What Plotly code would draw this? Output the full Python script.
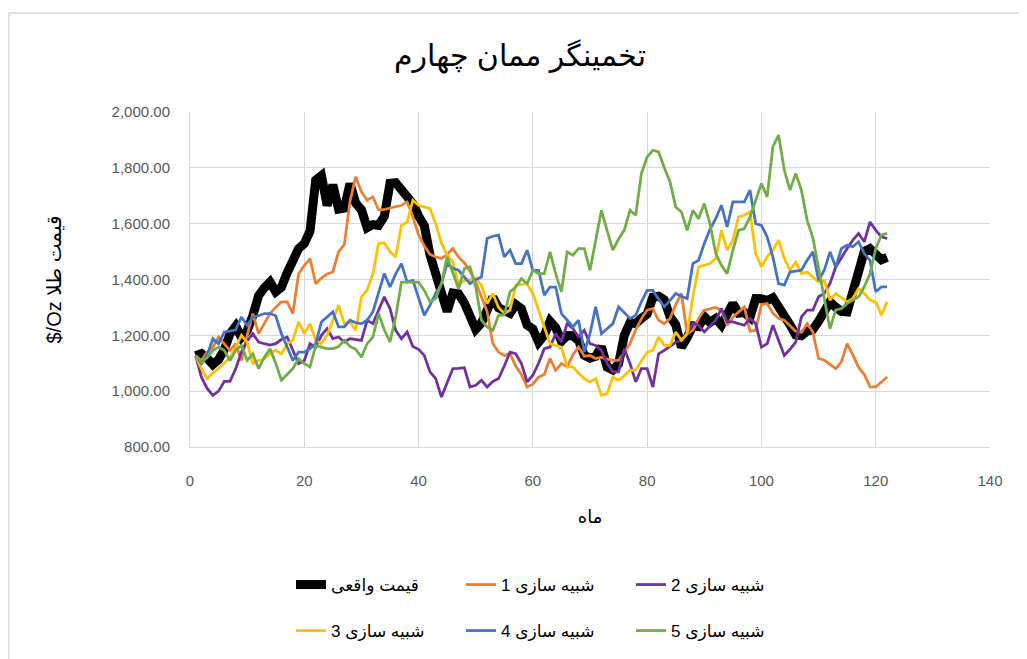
import plotly.graph_objects as go

months = list(range(1, 123))

actual_price = [
    1127.04, 1134.72,
    1117.96, 1095.41, 1113.34, 1148.69, 1205.43, 1232.92, 1192.97, 1215.81, 1270.98, 1342.02, 1369.89, 1390.55,
    1356.40, 1372.73, 1424.01, 1473.81, 1510.44, 1528.66, 1572.81, 1755.81, 1771.85, 1665.21, 1738.98, 1652.31,
    1656.12, 1742.62, 1673.77, 1649.69, 1585.50, 1596.70, 1593.91, 1626.03, 1744.50, 1746.58, 1721.64, 1684.76,
    1671.85, 1627.57, 1593.09, 1487.86, 1414.03, 1343.35, 1285.52, 1351.74, 1348.60, 1316.58, 1275.86, 1221.51,
    1244.27, 1299.58, 1336.08, 1298.45, 1288.74, 1279.10, 1310.59, 1295.13, 1236.55, 1222.49, 1175.33, 1200.62,
    1250.75, 1227.08, 1178.63, 1198.93, 1198.63, 1181.50, 1128.31, 1117.93, 1124.77, 1159.25, 1086.44, 1075.74,
    1097.91, 1199.50, 1245.14, 1242.26, 1260.95, 1276.40, 1336.66, 1340.17, 1326.61, 1266.55, 1238.35, 1157.36,
    1192.10, 1234.20, 1231.42, 1266.88, 1246.04, 1260.26, 1236.84, 1283.04, 1314.07, 1279.51, 1281.90, 1264.45,
    1331.30, 1330.73, 1324.66, 1334.76, 1303.45, 1281.57, 1237.71, 1201.71, 1198.39, 1215.39, 1220.65, 1250.40,
    1291.75, 1320.07, 1300.90, 1285.91, 1283.70, 1359.04, 1412.89, 1500.41, 1510.58, 1494.81, 1470.79, 1479.13,
]

sim1 = [
    1127, 1110, 1140, 1158, 1194, 1170, 1146, 1170, 1110, 1200,
    1278, 1206, 1240, 1278, 1300, 1320, 1320, 1278, 1420, 1450,
    1475, 1385, 1405, 1420, 1427, 1500, 1525, 1680, 1768, 1714,
    1684, 1696, 1650, 1650, 1656, 1662, 1666, 1678, 1624, 1560,
    1520, 1490, 1481, 1475, 1490, 1511, 1480, 1460, 1430, 1390,
    1340, 1285, 1170, 1140, 1128, 1134, 1090, 1060, 1015, 1025,
    1050, 1060, 1117, 1075, 1099, 1087, 1130, 1158, 1125, 1128,
    1117, 1122, 1115, 1110, 1110, 1140, 1170, 1220, 1260, 1290,
    1296, 1254, 1242, 1260, 1310, 1350, 1206, 1218, 1260, 1290,
    1296, 1300, 1290, 1236, 1265, 1285, 1302, 1215, 1218, 1310,
    1314, 1280, 1260, 1254, 1235, 1215, 1210, 1242, 1212, 1117,
    1111, 1095, 1081, 1105, 1170, 1130, 1085, 1060, 1015, 1015,
    1033, 1051,
]

sim2 = [
    1127, 1050, 1010, 985, 1000, 1035, 1035, 1080, 1140, 1180,
    1206, 1176, 1170, 1165, 1170, 1185, 1194, 1146, 1099, 1110,
    1170, 1158, 1200, 1224, 1188, 1194, 1176, 1188, 1185, 1182,
    1254, 1242, 1290, 1338, 1296, 1218, 1188, 1212, 1160, 1150,
    1128, 1069, 1045, 979, 1030, 1081, 1082, 1084, 1015, 1021,
    1039, 1015, 1035, 1045, 1090, 1140, 1134, 1099, 1033, 1057,
    1100, 1152, 1158, 1206, 1176, 1242, 1225, 1194, 1218, 1170,
    1164, 1146, 1100, 1069, 1069, 1152, 1099, 1033, 1081, 1081,
    1015, 1134, 1146, 1160, 1175, 1182, 1206, 1242, 1236, 1212,
    1235, 1254, 1296, 1248, 1248, 1242, 1236, 1260, 1242, 1158,
    1170, 1236, 1182, 1128, 1150, 1176, 1266, 1290, 1290, 1338,
    1350, 1386, 1445, 1480, 1511, 1541, 1565, 1535, 1606, 1577,
    1553, 1547,
]

sim3 = [
    1127, 1080, 1045, 1065, 1081, 1100, 1120, 1158, 1200, 1176,
    1099, 1110, 1115, 1135, 1146, 1134, 1170, 1182, 1248, 1206,
    1242, 1182, 1170, 1200, 1254, 1308, 1242, 1248, 1218, 1338,
    1362, 1420, 1529, 1531, 1500, 1481, 1594, 1606, 1684, 1666,
    1660, 1654, 1600, 1530, 1487, 1463, 1380, 1397, 1400, 1403,
    1380, 1314, 1350, 1300, 1278, 1290, 1380, 1383, 1385, 1350,
    1290, 1236, 1170, 1164, 1158, 1087, 1087, 1065, 1045, 1033,
    1045, 985, 991, 1051, 1039, 1055, 1075, 1075, 1110, 1140,
    1146, 1194, 1164, 1164, 1212, 1182, 1206, 1338, 1445, 1450,
    1457, 1475, 1576, 1505, 1541, 1624, 1630, 1642, 1493, 1445,
    1481, 1505, 1541, 1475, 1433, 1463, 1421, 1427, 1410, 1391,
    1397, 1326, 1350, 1335, 1320, 1332, 1368, 1350, 1326, 1320,
    1272, 1320,
]

sim4 = [
    1127, 1099, 1130, 1188, 1170, 1212, 1215, 1220, 1266, 1236,
    1266, 1270, 1278, 1278, 1270, 1206, 1158, 1110, 1140, 1140,
    1152, 1170, 1248, 1265, 1284, 1230, 1230, 1254, 1245, 1242,
    1254, 1284, 1350, 1421, 1373, 1420, 1457, 1391, 1397, 1330,
    1272, 1308, 1350, 1385, 1457, 1440, 1433, 1409, 1385, 1400,
    1409, 1547, 1555, 1559, 1481, 1505, 1457, 1457, 1505, 1433,
    1433, 1344, 1373, 1373, 1278, 1255, 1230, 1254, 1140, 1206,
    1302, 1206, 1225, 1242, 1302, 1280, 1260, 1272, 1320, 1361,
    1361, 1330, 1302, 1325, 1350, 1340, 1332, 1457, 1469, 1529,
    1580, 1618, 1666, 1588, 1678, 1678, 1678, 1720, 1600, 1594,
    1553, 1481, 1385, 1380, 1427, 1430, 1433, 1469, 1499, 1397,
    1433, 1499, 1445, 1511, 1523, 1517, 1535, 1493, 1469, 1356,
    1374, 1374,
]

sim5 = [
    1127, 1104, 1120, 1146, 1158, 1146, 1110, 1146, 1164, 1110,
    1134, 1081, 1122, 1152, 1100, 1039, 1060, 1081, 1116, 1099,
    1087, 1164, 1158, 1152, 1152, 1160, 1182, 1160, 1150, 1122,
    1170, 1194, 1278, 1220, 1176, 1266, 1391, 1391, 1391, 1391,
    1361, 1320, 1332, 1385, 1481, 1427, 1367, 1439, 1445, 1373,
    1254, 1230, 1218, 1272, 1272, 1356, 1373, 1403, 1385, 1433,
    1421, 1421, 1499, 1420, 1356, 1499, 1487, 1511, 1511, 1433,
    1540, 1648, 1575, 1505, 1545, 1577, 1648, 1630, 1780, 1839,
    1863, 1857, 1800, 1750, 1660, 1642, 1576, 1648, 1618, 1672,
    1600, 1493, 1451, 1421, 1505, 1576, 1582, 1624, 1684, 1744,
    1696, 1875, 1917, 1792, 1720, 1780, 1720, 1612, 1550, 1440,
    1330, 1224, 1290, 1296, 1314, 1326, 1338, 1374, 1420, 1510,
    1560, 1565,
]

series_names = ["قیمت واقعی", "شبیه سازی 1", "شبیه سازی 2",
                "شبیه سازی 3", "شبیه سازی 4", "شبیه سازی 5"]
series_values = [actual_price, sim1, sim2, sim3, sim4, sim5]
series_colors = ["#000000", "#ED7D31", "#7030A0", "#FFC000", "#4472C4", "#70AD47"]
series_widths = [9, 2.75, 2.75, 2.75, 2.75, 2.75]
series_legend = ["legend", "legend", "legend", "legend2", "legend2", "legend2"]

title_text = "تخمینگر ممان چهارم"
x_title = "ماه"
y_title = "$/Oz قیمت طلا"

FONT = "Arial, 'Liberation Sans', 'DejaVu Sans', sans-serif"

fig = go.Figure()
for name, vals, col, w, lg in zip(series_names, series_values, series_colors,
                                   series_widths, series_legend):
    fig.add_trace(go.Scatter(
        x=months[:len(vals)], y=vals, mode="lines", name=name,
        line=dict(color=col, width=w), legend=lg,
    ))

# page body has an 8px offset; compensate so the plot area sits at x 190-990, y 112-447
OFF = 8
W, H = 1027, 659
L, T = 190 - OFF, 112 - OFF
pw, ph = 800, 335
R = W - L - pw
B = H - T - ph


def py_to_paper(py):
    return (T + ph - (py - OFF)) / ph


def px_to_paper(px):
    return (px - OFF - L) / pw


axis_common = dict(
    showgrid=True, gridcolor="#d9d9d9", gridwidth=1,
    showline=True, linecolor="#d9d9d9", linewidth=1,
    zeroline=False, ticks="",
    tickfont=dict(family=FONT, size=15, color="#595959"),
)

legend_common = dict(
    orientation="h", xanchor="left", yanchor="middle",
    entrywidth=125, entrywidthmode="pixels",
    font=dict(family=FONT, size=17, color="#000000"),
    bgcolor="rgba(0,0,0,0)", traceorder="normal",
)

fig.update_layout(
    width=W, height=H,
    margin=dict(l=L, r=R, t=T, b=B, pad=0),
    paper_bgcolor="white", plot_bgcolor="white",
    font=dict(family=FONT, color="#000000"),
    title=dict(text=title_text, x=(520 - OFF) / W, xref="container", xanchor="center",
               y=1 - (55 - OFF) / H, yref="container", yanchor="middle",
               font=dict(family=FONT, size=30, color="#000000")),
    xaxis=dict(range=[0, 140], tick0=0, dtick=20, ticklabelstandoff=20,
               title=dict(text=x_title, font=dict(family=FONT, size=18, color="#000000"),
                          standoff=22),
               **axis_common),
    yaxis=dict(range=[800, 2000], tick0=800, dtick=200, tickformat=",.2f",
               ticklabelstandoff=16,
               title=dict(text=y_title, font=dict(family=FONT, size=20, color="#000000"),
                          standoff=44),
               **axis_common),
    legend=dict(x=px_to_paper(291), y=py_to_paper(585), **legend_common),
    legend2=dict(x=px_to_paper(291), y=py_to_paper(631), **legend_common),
    shapes=[dict(type="rect", xref="paper", yref="paper",
                 x0=px_to_paper(9), x1=1.5, y0=-2, y1=py_to_paper(13),
                 line=dict(color="#d9d9d9", width=1.5), fillcolor="rgba(0,0,0,0)",
                 layer="below")],
    showlegend=True,
)

fig.write_html("out.html")
